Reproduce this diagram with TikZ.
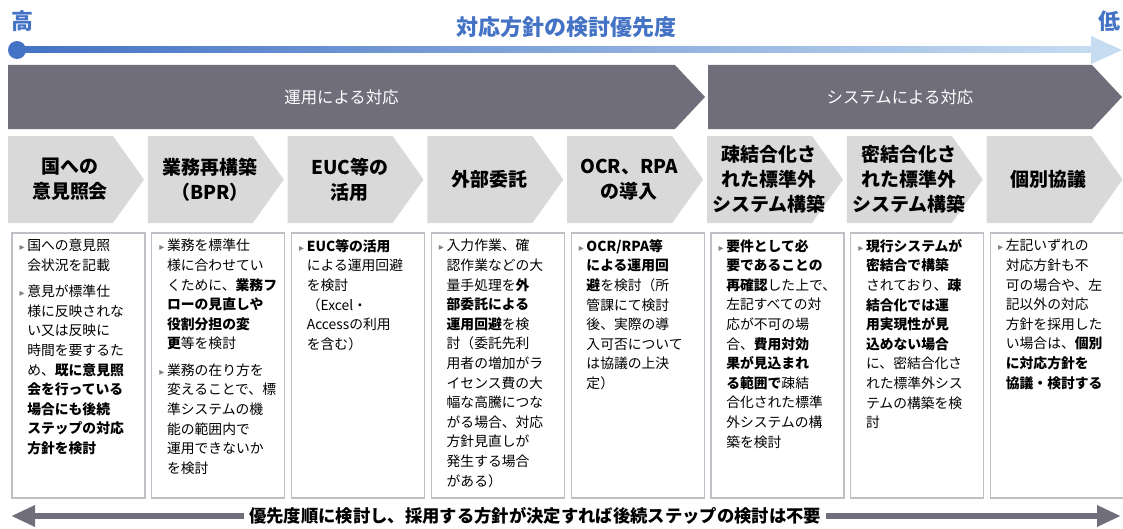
\documentclass[tikz,border=0pt]{standalone}
\usepackage{fontspec}
\setmainfont{Noto Sans CJK JP}
\newfontfamily\djv{DejaVu Sans}
\usetikzlibrary{arrows.meta}
\definecolor{hdr}{RGB}{111,110,122}
\definecolor{chev}{RGB}{217,217,217}
\definecolor{bxline}{RGB}{191,191,198}
\definecolor{blu}{RGB}{68,114,196}
\definecolor{lblu}{RGB}{197,220,241}
\definecolor{bulc}{RGB}{128,128,128}
\newcommand\bul{\llap{{\djv\fontsize{7.5pt}{7.5pt}\selectfont\color{bulc}▸}\hspace{2pt}}}
\begin{document}
\begin{tikzpicture}[x=0.75pt,y=-0.75pt,
  hdrbar/.style={fill=hdr},
  chevbar/.style={fill=chev},
  colbox/.style={draw=bxline, line width=0.9pt},
  hdrtxt/.style={text=white, font=\fontsize{12.3pt}{14pt}\selectfont, inner sep=0},
  chevtxt/.style={align=center, font=\bfseries\fontsize{14.2pt}{18.75pt}\selectfont, inner sep=0},
  bodytxt/.style={anchor=north west, align=left, inner sep=0, font=\fontsize{10.35pt}{14.7pt}\selectfont},
  endtxt/.style={text=blu, font=\bfseries\fontsize{16.5pt}{18pt}\selectfont, inner sep=0}]
\useasboundingbox (0,0) rectangle (1123,528);

% top priority arrow
\shade[left color=blu, right color=lblu] (17,47) rectangle (1093,53);
\fill[lblu] (1091,36) -- (1122,50) -- (1091,64) -- cycle;
\fill[blu] (17,50) circle[radius=6.75pt];
\node[endtxt] (high) at (23,21) {高};
\node[endtxt] (low) at (1109,21) {低};
\node[endtxt] (title) at (566,27) {対応方針の検討優先度};

% header bars
\fill[hdrbar] (8,65) -- (675,65) -- (705,97) -- (675,129) -- (8,129) -- cycle;
\fill[hdrbar] (708,65) -- (1092,65) -- (1122,97) -- (1092,129) -- (708,129) -- cycle;
\node[hdrtxt] (h1) at (341.5,97) {運用による対応};
\node[hdrtxt] (h2) at (900,97) {システムによる対応};

% chevrons
\foreach \c in {8,147.8,287.6,427.4,567.2,707,846.8,986.6}
  \fill[chevbar] (\c,136) -- (\c+105,136) -- (\c+136,179.5) -- (\c+105,223) -- (\c,223) -- cycle;
\node[chevtxt] (c1) at (70,179.5) {国への\\意見照会};
\node[chevtxt] (c2) at (209.8,179.5) {業務再構築\\（BPR）};
\node[chevtxt] (c3) at (349.6,179.5) {EUC等の\\活用};
\node[chevtxt] (c4) at (489.4,179.5) {外部委託};
\node[chevtxt] (c5) at (629.2,179.5) {OCR、RPA\\の導入};
\node[chevtxt] (c6) at (769,179.5) {疎結合化さ\\れた標準外\\システム構築};
\node[chevtxt] (c7) at (908.8,179.5) {密結合化さ\\れた標準外\\システム構築};
\node[chevtxt] (c8) at (1048.6,179.5) {個別協議};

% column boxes
\foreach \b in {12,151.8,291.6,431.4,571.2,711,850.8,990.6}
  \draw[colbox] (\b,233) rectangle (\b+133,498);

\node[bodytxt] (t1) at (27,239) {\bul 国への意見照\\会状況を記載\\[5pt]\bul 意見が標準仕\\様に反映されな\\い又は反映に\\時間を要するた\\め、\textbf{既に意見照}\\\textbf{会を行っている}\\\textbf{場合にも後続}\\\textbf{ステップの対応}\\\textbf{方針を検討}};
\node[bodytxt] (t2) at (166.8,239) {\bul 業務を標準仕\\様に合わせてい\\くために、\textbf{業務フ}\\\textbf{ローの見直しや}\\\textbf{役割分担の変}\\\textbf{更}等を検討\\[5pt]\bul 業務の在り方を\\変えることで、標\\準システムの機\\能の範囲内で\\運用できないか\\を検討};
\node[bodytxt] (t3) at (306.6,239) {\bul\textbf{EUC等の活用}\\による運用回避\\を検討\\（Excel・\\Accessの利用\\を含む）};
\node[bodytxt] (t4) at (446.4,239) {\bul 入力作業、確\\認作業などの大\\量手処理を\textbf{外}\\\textbf{部委託による}\\\textbf{運用回避}を検\\討（委託先利\\用者の増加がラ\\イセンス費の大\\幅な高騰につな\\がる場合、対応\\方針見直しが\\発生する場合\\がある）};
\node[bodytxt] (t5) at (586.2,239) {\bul\textbf{OCR/RPA等}\\\textbf{による運用回}\\\textbf{避}を検討（所\\管課にて検討\\後、実際の導\\入可否について\\は協議の上決\\定）};
\node[bodytxt] (t6) at (726,239) {\bul\textbf{要件として必}\\\textbf{要であることの}\\\textbf{再確認}した上で、\\左記すべての対\\応が不可の場\\合、\textbf{費用対効}\\\textbf{果が見込まれ}\\\textbf{る範囲で}疎結\\合化された標準\\外システムの構\\築を検討};
\node[bodytxt] (t7) at (865.8,239) {\bul\textbf{現行システムが}\\\textbf{密結合で構築}\\されており、\textbf{疎}\\\textbf{結合化では運}\\\textbf{用実現性が見}\\\textbf{込めない場合}\\に、密結合化さ\\れた標準外シス\\テムの構築を検\\討};
\node[bodytxt] (t8) at (1005.6,239) {\bul 左記いずれの\\対応方針も不\\可の場合や、左\\記以外の対応\\方針を採用した\\い場合は、\textbf{個別}\\\textbf{に対応方針を}\\\textbf{協議・検討する}};

% bottom arrow
\coordinate (bl) at (11,516);
\coordinate (br) at (1121,516);
\draw[draw=hdr, line width=4.5pt, {Triangle[length=18pt,width=15pt]}-{Triangle[length=18pt,width=15pt]}] (bl) -- (br);
\node[fill=white, inner xsep=3.5pt, inner ysep=1pt, font=\bfseries\fontsize{13pt}{14pt}\selectfont] (note) at (535,516) {優先度順に検討し、採用する方針が決定すれば後続ステップの検討は不要};
\end{tikzpicture}
\end{document}
